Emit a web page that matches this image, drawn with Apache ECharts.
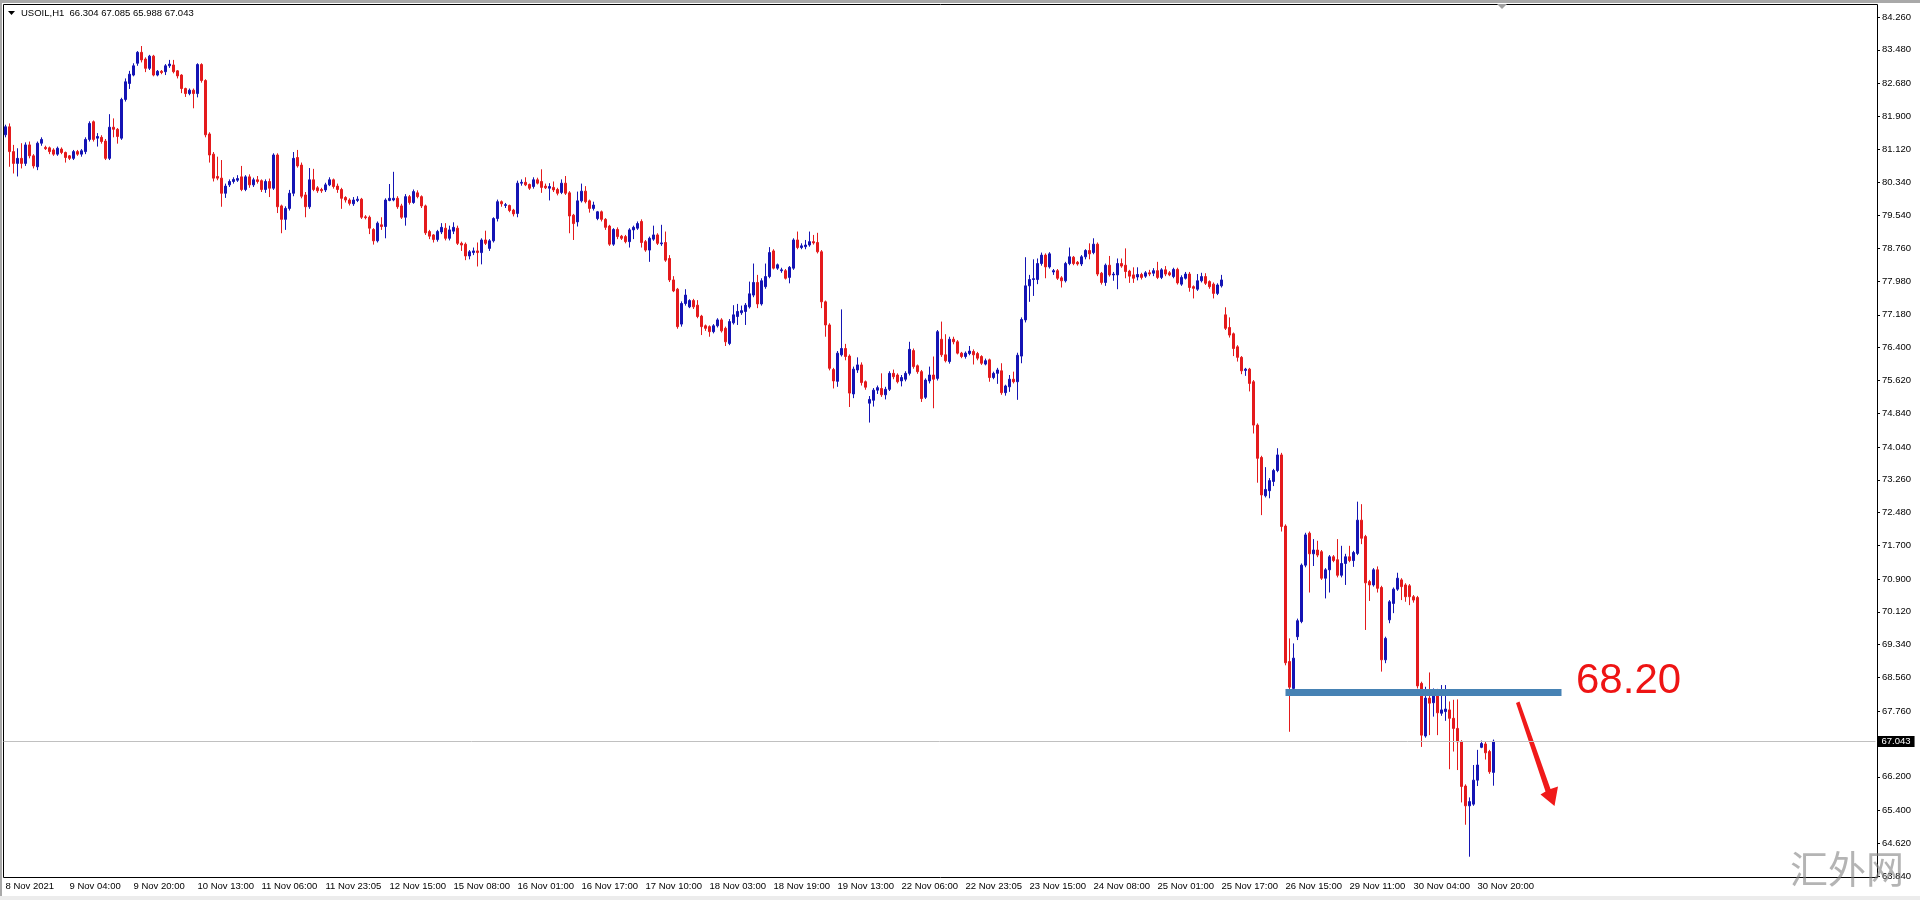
<!DOCTYPE html>
<html>
<head>
<meta charset="utf-8">
<title>USOIL,H1</title>
<script src="https://cdn.jsdelivr.net/npm/echarts@6/dist/echarts.min.js"></script>
<style>
  html, body { margin: 0; padding: 0; background: #fff; }
  #chart { width: 1920px; height: 900px; }
</style>
</head>
<body>
<div id="chart"></div>
<script>
// --- Data (one value per bar) ---

// Time scale labels, one every 16 bars
const timeLabels = [
    '8 Nov 2021', '9 Nov 04:00', '9 Nov 20:00', '10 Nov 13:00', '11 Nov 06:00', '11 Nov 23:05',
    '12 Nov 15:00', '15 Nov 08:00', '16 Nov 01:00', '16 Nov 17:00', '17 Nov 10:00', '18 Nov 03:00',
    '18 Nov 19:00', '19 Nov 13:00', '22 Nov 06:00', '22 Nov 23:05', '23 Nov 15:00', '24 Nov 08:00',
    '25 Nov 01:00', '25 Nov 17:00', '26 Nov 15:00', '29 Nov 11:00', '30 Nov 04:00', '30 Nov 20:00'
];

// Price scale labels
const priceTicks = [
    84.26, 83.48, 82.68, 81.90, 81.12, 80.34, 79.54, 78.76, 77.98, 77.18, 76.40, 75.62, 74.84,
    74.04, 73.26, 72.48, 71.70, 70.90, 70.12, 69.34, 68.56, 67.76, 66.20, 65.40, 64.62, 63.84
];

const opens = [
    81.46,81.65,81.06,80.78,80.90,80.78,81.22,80.96,80.70,81.26,
    81.16,81.15,81.10,81.00,81.12,81.04,80.96,80.90,81.06,81.00,
    81.06,81.35,81.77,81.38,81.40,81.31,80.90,81.64,81.59,81.38,
    82.30,82.68,82.88,83.16,83.42,83.26,83.04,83.33,82.88,82.97,
    82.96,83.10,83.12,82.98,82.88,82.56,82.44,82.52,82.44,83.13,
    82.75,81.48,81.00,80.47,80.43,80.07,80.27,80.35,80.38,80.46,
    80.16,80.46,80.27,80.39,80.37,80.16,80.35,80.19,80.98,79.77,
    79.45,79.71,80.07,80.92,80.74,80.03,79.75,80.39,80.20,80.16,
    80.15,80.27,80.39,80.24,80.16,79.97,79.91,79.82,79.90,79.93,
    79.51,79.50,79.21,78.94,79.32,79.28,79.90,79.91,79.95,79.77,
    79.50,79.99,79.85,80.08,79.99,79.77,79.16,79.08,78.97,79.15,
    79.24,79.00,79.17,79.24,78.88,78.86,78.58,78.66,78.70,78.66,
    78.96,78.76,78.94,79.47,
    79.87,79.78,79.78,79.67,79.59,80.31,
    80.33,80.28,80.23,80.39,80.35,80.24,80.19,80.21,80.16,80.09,
    80.31,80.08,79.55,79.39,79.89,80.12,79.89,79.71,79.47,79.63,
    79.45,79.29,78.86,79.21,79.05,79.04,78.92,79.20,79.24,79.40,
    78.92,78.72,78.98,79.08,78.87,78.90,78.52,78.01,77.79,76.96,
    77.45,77.37,77.52,77.41,77.15,76.92,76.90,76.78,76.92,77.06,
    76.86,76.50,76.99,77.14,77.23,77.26,77.37,77.65,77.95,77.44,
    77.85,78.09,78.70,78.29,78.23,78.23,78.07,78.29,78.96,78.78,
    78.80,78.84,78.92,78.90,78.68,77.49,76.94,75.88,75.60,76.23,
    76.38,76.20,75.30,75.87,75.99,75.59,75.08,75.15,75.39,75.43,
    75.28,75.41,75.79,75.75,75.61,75.65,75.79,76.33,75.97,75.83,
    75.22,75.61,75.75,75.67,76.60,76.23,76.07,76.60,76.54,76.27,
    76.19,76.26,76.31,76.26,76.19,76.01,76.11,75.69,75.79,
    75.85,75.33,75.47,75.65,75.59,76.20,77.06,77.87,78.02,78.02,78.40,
    78.60,78.32,78.20,78.23,78.06,77.99,78.40,78.55,78.43,78.39,
    78.56,78.71,78.66,78.86,78.17,77.95,78.36,78.13,78.13,78.40,
    78.36,78.22,78.13,78.08,78.14,78.10,78.18,78.17,78.23,78.07,
    78.25,78.18,78.09,78.26,77.91,78.05,78.15,77.85,77.79,77.99,
    78.09,77.97,77.91,77.69,77.87,77.18,76.88,76.73,76.42,76.17,
    75.86,75.89,75.59,74.56,73.79,72.88,73.00,73.22,73.48,
    73.85,72.16,68.94,68.30,69.53,69.89,71.23,71.99,71.50,71.59,71.55,
    70.92,71.12,71.43,71.36,70.99,71.27,71.43,71.34,71.51,72.30,
    71.91,70.84,70.76,71.12,70.70,68.98,69.93,70.32,70.66,70.88,
    70.76,70.74,70.48,70.46,68.42,67.17,68.07,67.96,68.25,67.71,
    67.75,67.79,67.59,67.35,67.03,65.98,65.51,65.55,66.12,66.90,
    66.98,66.80,66.304
];

const closes = [
    81.65,81.06,80.78,80.90,80.78,81.22,80.96,80.72,81.26,81.35,
    81.13,81.06,81.00,81.14,81.04,80.92,80.90,81.06,81.00,81.08,
    81.35,81.73,81.35,81.42,81.30,80.90,81.64,81.59,81.42,82.30,
    82.72,82.90,83.10,83.42,83.24,83.04,83.33,82.88,82.97,82.94,
    83.10,83.14,82.96,82.86,82.56,82.44,82.52,82.44,83.13,82.75,
    81.46,80.98,80.43,80.43,80.07,80.24,80.35,80.40,80.42,80.16,
    80.46,80.27,80.39,80.35,80.16,80.35,80.19,80.98,79.75,79.45,
    79.71,80.07,80.90,80.72,80.00,79.75,80.39,80.16,80.13,80.13,
    80.27,80.39,80.23,80.16,79.95,79.91,79.83,79.91,79.93,79.50,
    79.49,79.24,78.94,79.36,79.28,79.91,79.95,79.95,79.75,79.50,
    79.99,79.85,80.11,79.99,79.77,79.13,79.05,78.97,79.16,79.26,
    79.00,79.20,79.26,78.88,78.84,78.58,78.68,78.70,78.66,78.96,
    78.88,78.94,79.47,79.87,
    79.82,79.80,79.66,79.58,80.31,80.33,
    80.27,80.19,80.39,80.31,80.21,80.20,80.23,80.15,80.07,80.31,
    80.07,79.53,79.35,79.89,80.12,79.87,79.71,79.79,79.63,79.45,
    79.26,78.86,79.21,79.04,79.00,78.92,79.20,79.26,79.35,78.90,
    78.72,79.00,79.08,78.88,78.89,78.48,78.01,77.75,76.90,77.45,
    77.65,77.52,77.37,77.14,76.90,76.86,76.78,76.92,77.06,76.80,
    76.54,77.02,77.18,77.26,77.28,77.41,77.68,77.95,77.44,77.99,
    78.09,78.66,78.29,78.37,78.25,78.05,78.31,78.96,78.78,78.82,
    78.84,78.92,78.89,78.68,77.49,76.94,75.91,75.61,76.27,76.38,
    76.19,75.32,75.89,75.99,75.57,75.46,75.17,75.39,75.45,75.28,
    75.41,75.79,75.71,75.59,75.69,75.79,76.36,75.95,75.83,75.19,
    75.63,75.75,75.65,76.78,76.23,76.09,76.60,76.54,76.27,76.19,
    76.27,76.32,76.23,76.15,76.03,76.09,75.69,75.79,75.87,
    75.33,75.49,75.65,75.59,76.22,77.07,77.87,78.02,78.04,78.40,78.60,
    78.32,78.63,78.23,78.05,77.99,78.40,78.56,78.40,78.39,78.56,
    78.71,78.63,78.86,78.15,77.95,78.36,78.13,78.15,78.40,78.34,
    78.21,78.10,78.05,78.14,78.07,78.18,78.15,78.23,78.07,78.25,
    78.15,78.13,78.26,77.94,78.07,78.15,77.83,77.81,77.99,78.09,
    77.93,77.85,77.69,77.89,78.01,76.86,76.70,76.38,76.17,75.85,
    75.89,75.55,74.56,73.77,72.90,73.03,73.24,73.48,73.85,
    72.15,68.91,68.33,69.02,69.91,71.23,71.95,71.50,71.59,71.47,70.92,
    71.12,71.43,71.34,70.99,71.27,71.43,71.34,71.53,72.30,71.87,
    70.81,70.76,71.12,70.68,68.98,69.49,70.36,70.66,70.92,70.72,
    70.48,70.48,70.40,68.36,67.19,68.07,67.95,68.25,67.72,67.79,
    67.81,67.59,67.35,67.03,65.97,65.51,65.61,66.12,66.48,66.99,
    66.77,66.32,67.043
];

const highs = [
    81.70,81.73,81.22,81.14,81.26,81.28,81.30,81.00,81.30,81.40,
    81.20,81.18,81.14,81.18,81.16,81.06,80.98,81.10,81.10,81.12,
    81.40,81.78,81.80,81.50,81.45,81.36,81.95,81.85,81.62,82.34,
    82.80,82.98,83.16,83.45,83.57,83.30,83.36,83.36,83.00,83.00,
    83.14,83.24,83.24,83.00,82.90,82.58,82.56,82.56,83.16,83.16,
    82.78,81.52,81.05,80.94,80.86,80.30,80.40,80.45,80.50,80.72,
    80.50,80.52,80.44,80.48,80.40,80.40,80.42,81.02,81.02,79.80,
    79.76,80.15,81.05,81.10,80.80,80.10,80.67,80.65,80.24,80.20,
    80.32,80.45,80.42,80.30,80.20,80.00,79.95,79.98,80.00,79.96,
    79.55,79.54,79.24,79.40,79.50,79.95,80.29,80.58,80.00,79.82,
    80.05,80.03,80.16,80.14,80.02,79.80,79.20,79.10,79.20,79.36,
    79.36,79.30,79.38,79.30,78.92,78.90,78.72,78.78,78.90,79.00,
    79.18,78.98,79.50,79.92,
    79.90,79.84,79.80,79.70,80.37,80.40,
    80.45,80.30,80.45,80.44,80.64,80.30,80.31,80.35,80.20,80.40,
    80.48,80.12,79.58,80.11,80.30,80.24,79.92,79.87,79.65,79.66,
    79.48,79.32,79.24,79.26,79.08,79.08,79.24,79.30,79.40,79.45,
    78.96,79.04,79.30,79.12,79.32,79.16,78.60,78.10,77.82,77.50,
    77.79,77.55,77.56,77.53,77.18,76.95,76.93,76.96,77.10,77.10,
    76.90,77.08,77.41,77.44,77.40,77.46,77.97,78.40,78.13,78.05,
    78.40,78.79,78.74,78.40,78.30,78.27,78.34,79.00,79.16,78.88,
    78.96,79.16,79.08,79.13,78.72,77.52,76.98,75.92,76.32,77.31,
    76.49,76.24,75.95,76.17,76.05,75.62,75.25,75.44,75.50,75.79,
    75.47,75.84,75.88,75.79,75.75,75.84,76.54,76.38,76.00,75.87,
    75.67,75.95,76.19,76.82,77.02,76.72,76.66,76.66,76.58,76.30,
    76.31,76.44,76.36,76.30,76.22,76.14,76.14,75.83,75.92,
    76.03,75.52,75.75,75.83,76.28,77.12,78.55,78.13,78.50,78.52,78.66,
    78.64,78.67,78.27,78.27,78.10,78.44,78.78,78.58,78.46,78.60,
    78.74,78.88,79.00,78.90,78.20,78.40,78.58,78.20,78.52,78.52,
    78.76,78.25,78.31,78.31,78.18,78.22,78.25,78.29,78.44,78.29,
    78.34,78.22,78.30,78.30,78.12,78.20,78.20,77.88,78.15,78.18,
    78.17,78.00,77.95,77.93,78.13,77.36,77.12,76.76,76.46,76.20,
    75.92,75.92,75.63,74.60,73.83,73.56,73.30,73.52,74.01,
    73.90,72.20,69.49,69.37,69.96,71.27,72.00,72.03,71.85,71.81,71.59,
    71.16,71.47,71.47,71.85,71.69,71.50,71.69,71.57,72.74,72.68,
    71.95,70.88,71.16,71.20,70.74,69.53,70.40,70.70,71.05,70.92,
    70.80,70.78,70.52,70.50,68.46,68.34,68.68,68.30,68.29,68.38,
    68.38,67.99,68.03,68.04,67.07,66.02,65.71,66.48,66.84,67.06,
    67.04,66.84,67.085
];

const lows = [
    81.40,80.70,80.54,80.47,80.66,80.72,80.90,80.66,80.62,81.20,
    81.10,81.00,80.96,80.96,81.00,80.80,80.86,80.86,80.96,80.94,
    81.00,81.30,81.30,81.18,81.25,80.86,80.86,81.40,81.25,81.34,
    82.25,82.55,82.85,83.10,83.18,82.95,83.00,82.85,82.85,82.90,
    82.88,83.05,82.92,82.80,82.45,82.36,82.40,82.09,82.35,82.70,
    81.40,80.80,80.35,80.38,79.75,79.96,80.22,80.30,80.34,80.12,
    80.12,80.20,80.22,80.30,80.10,80.08,79.98,80.15,79.60,79.12,
    79.20,79.66,80.00,80.68,79.95,79.50,79.70,80.12,80.08,80.08,
    80.10,80.24,80.18,80.08,79.70,79.85,79.78,79.77,79.86,79.46,
    79.45,79.10,78.85,78.90,79.20,79.00,79.88,79.88,79.70,79.46,
    79.30,79.80,79.82,79.95,79.72,79.08,78.98,78.90,78.92,79.10,
    78.95,78.95,79.10,78.84,78.70,78.48,78.50,78.60,78.33,78.38,
    78.84,78.70,78.90,79.40,
    79.75,79.72,79.62,79.52,79.50,80.25,
    80.24,80.15,80.18,80.28,80.08,80.17,79.90,80.10,80.02,80.05,
    80.03,79.12,78.96,79.28,79.85,79.83,79.61,79.66,79.43,79.40,
    79.20,78.82,78.82,78.98,78.96,78.88,78.78,78.98,79.20,78.78,
    78.68,78.44,78.94,78.84,78.82,78.44,77.96,77.72,76.85,76.90,
    77.40,77.34,77.32,77.10,76.70,76.80,76.66,76.74,76.88,76.76,
    76.44,76.46,76.95,76.94,77.18,76.94,77.33,77.60,77.34,77.40,
    77.80,78.05,78.26,78.25,78.18,78.02,77.93,78.25,78.74,78.74,
    78.74,78.80,78.85,78.64,77.34,76.66,75.86,75.43,75.47,76.19,
    76.10,74.99,75.20,75.80,75.50,75.40,74.62,75.00,75.30,75.23,
    75.17,75.37,75.65,75.55,75.48,75.60,75.74,75.90,75.78,75.11,
    75.18,75.55,74.96,75.62,76.18,76.05,76.02,76.48,76.24,76.15,
    76.14,76.22,76.00,76.10,75.99,75.98,75.59,75.65,75.54,
    75.28,75.26,75.35,75.55,75.16,76.03,77.00,77.49,77.63,77.91,78.35,
    78.05,78.28,78.13,78.01,77.83,77.95,78.36,78.36,78.35,78.34,
    78.50,78.50,78.62,78.10,77.90,77.87,78.09,77.99,77.79,78.30,
    78.05,77.94,77.94,78.00,78.02,78.06,78.10,78.10,78.03,78.03,
    78.10,78.10,78.05,77.90,77.87,78.02,77.73,77.57,77.75,77.95,
    77.89,77.80,77.57,77.65,77.83,76.82,76.64,76.20,76.07,75.77,
    75.73,75.36,74.36,73.19,72.42,72.84,72.82,73.11,73.44,
    72.03,68.85,67.27,68.25,69.45,69.85,71.18,70.58,71.21,71.42,70.88,
    70.44,70.58,71.30,70.94,70.94,70.76,71.30,71.19,71.47,71.73,
    69.69,70.38,70.72,70.58,68.70,68.90,69.85,70.09,70.62,70.40,
    70.36,70.28,70.34,68.30,66.91,67.13,67.19,67.63,67.19,67.65,
    67.53,66.38,66.80,66.36,65.59,65.06,64.30,65.51,65.98,66.88,
    66.61,66.27,65.988
];

// Annotation: resistance level drawn from bar 320 to bar 389
const levelPrice = 68.20;
const levelFrom = 320;
const levelTo = 389;

// --- Chart ---

const FONT = 'Liberation Sans';
const BULL = '#1414b4';
const BEAR = '#e41a1c';
const SLOTS = 468; // bars that fit on the time scale, the right part stays empty

const last = opens.length - 1;
const lastPrice = closes[last];

const categories = Array.from({ length: SLOTS }, (_, i) => 'b' + i);
const candles = opens.map((o, i) => [o, closes[i], lows[i], highs[i]]);

const header = 'USOIL,H1  ' + [opens[last], highs[last], lows[last], closes[last]]
    .map(v => v.toFixed(3)).join(' ');

// grid is placed on half pixels so that 4px slots give crisp 3px bodies
const option = {
    animation: false,
    backgroundColor: '#fff',
    grid: {
        left: 3.5, top: 4, width: SLOTS * 4, bottom: 23,
        show: false
    },
    xAxis: {
        type: 'category',
        data: categories,
        boundaryGap: true,
        axisLine: { show: false },
        axisTick: { interval: 15, alignWithLabel: true, length: 3, lineStyle: { color: '#000' } },
        axisLabel: {
            interval: 15,
            align: 'left',
            margin: 4,
            color: '#000',
            fontFamily: FONT,
            fontSize: 9.5,
            formatter: (v, idx) => timeLabels[idx / 16] || ''
        },
        splitLine: { show: false }
    },
    yAxis: {
        type: 'value',
        position: 'right',
        offset: 1.5,
        min: 63.818,
        max: 84.569,
        axisLine: { show: false },
        axisTick: { show: true, length: 3, customValues: priceTicks, lineStyle: { color: '#000' } },
        axisLabel: {
            customValues: priceTicks,
            formatter: v => v.toFixed(3),
            margin: 5,
            color: '#000',
            fontFamily: FONT,
            fontSize: 9.5
        },
        splitLine: { show: false }
    },
    series: [
        {
            type: 'candlestick',
            data: candles,
            barWidth: 2,
            clip: false,
            itemStyle: {
                color: BULL, color0: BEAR,
                borderColor: BULL, borderColor0: BEAR,
                borderWidth: 1
            },
            emphasis: { disabled: true },
            markLine: {
                silent: true,
                animation: false,
                symbol: ['none', 'none'],
                data: [
                    {
                        yAxis: lastPrice,
                        lineStyle: { color: '#c0c0c0', width: 1, type: 'solid' },
                        label: {
                            show: true,
                            position: 'end',
                            distance: 2,
                            formatter: lastPrice.toFixed(3),
                            color: '#fff',
                            backgroundColor: '#000',
                            padding: [1, 4, 0, 4],
                            fontFamily: FONT,
                            fontSize: 9.5
                        }
                    },
                    [
                        {
                            coord: [levelFrom, levelPrice],
                            lineStyle: { color: '#4682b4', width: 7, type: 'solid', cap: 'butt' },
                            label: { show: false }
                        },
                        { coord: [levelTo, levelPrice] }
                    ]
                ]
            }
        }
    ],
    graphic: [
        // window frame
        { type: 'rect', silent: true, shape: { x: 0, y: 0, width: 1920, height: 3 }, style: { fill: '#a9a9a9' } },
        { type: 'rect', silent: true, shape: { x: 0, y: 0, width: 2, height: 900 }, style: { fill: '#a9a9a9' } },
        { type: 'rect', silent: true, shape: { x: 0, y: 896, width: 1920, height: 4 }, style: { fill: '#ececec' } },
        // chart border, price scale line and time scale line
        {
            type: 'rect', silent: true,
            shape: { x: 3.5, y: 4.5, width: 1874, height: 873 },
            style: { fill: null, stroke: '#000', lineWidth: 1 }
        },
        // chart shift marker
        { type: 'polygon', silent: true, shape: { points: [[1497, 4], [1507, 4], [1502, 9]] }, style: { fill: '#a0a0a0' } },
        // symbol / OHLC header
        { type: 'polygon', silent: true, shape: { points: [[8, 11], [15, 11], [11.5, 15]] }, style: { fill: '#000' } },
        {
            type: 'text', silent: true, x: 21, y: 13,
            style: { text: header, fill: '#000', fontFamily: FONT, fontSize: 9.5, verticalAlign: 'middle' }
        },
        // red annotation
        {
            type: 'text', silent: true, x: 1576, y: 681,
            style: { text: levelPrice.toFixed(2), fill: '#ee1414', fontFamily: FONT, fontSize: 42, verticalAlign: 'middle' }
        },
        {
            type: 'polygon', silent: true,
            shape: { points: [[1516, 703], [1519.5, 701.5], [1550.5, 789], [1558, 786.5], [1554.5, 806], [1540.5, 794.5], [1545.5, 791.5]] },
            style: { fill: '#f01a1a' }
        },
        // watermark
        {
            type: 'text', silent: true, x: 1790, y: 869, z: 100,
            style: { text: '汇外网', fill: 'rgba(130,130,130,0.6)', fontFamily: 'Noto Sans CJK SC', fontSize: 38, verticalAlign: 'middle' }
        }
    ]
};

const chart = echarts.init(document.getElementById('chart'), null, { renderer: 'canvas' });
chart.setOption(option);

window.addEventListener('resize', () => chart.resize());
</script>
</body>
</html>
